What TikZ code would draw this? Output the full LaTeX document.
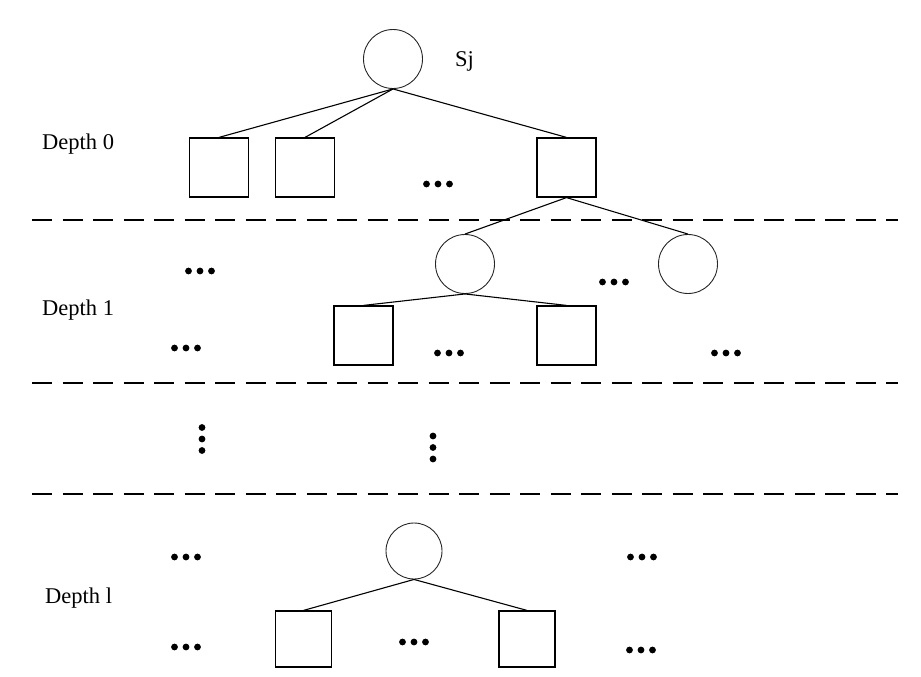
\documentclass[tikz,border=0pt]{standalone}
\usepackage{fontspec}
\setmainfont{Liberation Serif}
\begin{document}
\begin{tikzpicture}[x=1pt,y=-1pt,
  circ/.style={draw=black!85,line width=0.9pt,circle,minimum size=59pt,inner sep=0pt},
  sq/.style={draw=black,line width=1.2pt,rectangle,minimum size=59pt,inner sep=0pt},
  sqs/.style={draw=black,line width=1.2pt,rectangle,minimum size=56pt,inner sep=0pt},
  conn/.style={line width=1.1pt},
  sep/.style={line width=1.2pt,dash pattern=on 20pt off 10.5pt},
  lbl/.style={font=\fontsize{22.5}{26}\selectfont,inner sep=0pt,anchor=west},
  hd/.pic={\fill (-11.5,0) circle (3.4pt) (0,0) circle (3.4pt) (11.5,0) circle (3.4pt);},
  vd/.pic={\fill (0,-11.5) circle (3.4pt) (0,0) circle (3.4pt) (0,11.5) circle (3.4pt);}
]
\useasboundingbox (0,0) rectangle (921,677);
% separators
\coordinate (s1a) at (32,220); \coordinate (s1b) at (898,220);
\coordinate (s2a) at (32,383); \coordinate (s2b) at (898,383);
\coordinate (s3a) at (32,494); \coordinate (s3b) at (898,494);
\draw[sep] (s1a) -- (s1b);
\draw[sep] (s2a) -- (s2b);
\draw[sep] (s3a) -- (s3b);
% labels
\node[lbl] (l0) at (42,144) {Depth 0};
\node[lbl] (l1) at (42,310) {Depth 1};
\node[lbl] (l2) at (45,598) {Depth l};
\node[lbl] (sj) at (455,61) {Sj};
% depth 0
\node[circ] (root) at (393,59) {};
\node[sq] (b1) at (219,167.5) {};
\node[sq] (b2) at (305,167.5) {};
\node[sq] (b3) at (566.5,167.5) {};
\draw[conn] (root.south) -- (b1.north);
\draw[conn] (root.south) -- (b2.north);
\draw[conn] (root.south) -- (b3.north);
% depth 1
\node[circ] (c1) at (465,264) {};
\node[circ] (c2) at (688,264) {};
\draw[conn] (b3.south) -- (c1.north);
\draw[conn] (b3.south) -- (c2.north);
\node[sq] (b4) at (363.5,335.5) {};
\node[sq] (b5) at (566.5,335.5) {};
\draw[conn] (c1.south) -- (b4.north);
\draw[conn] (c1.south) -- (b5.north);
% depth l
\node[circ,minimum size=56pt] (c3) at (414,551) {};
\node[sqs] (b6) at (303.5,639) {};
\node[sqs] (b7) at (527,639) {};
\draw[conn] (c3.south) -- (b6.north);
\draw[conn] (c3.south) -- (b7.north);
% dots
\pic at (438,184) {hd};
\pic at (200,271) {hd};
\pic at (614,282) {hd};
\pic at (186,348) {hd};
\pic at (449,353) {hd};
\pic at (726,353) {hd};
\pic at (202,439) {vd};
\pic at (433,447.5) {vd};
\pic at (186,557) {hd};
\pic at (642,557) {hd};
\pic at (186,647) {hd};
\pic at (414,642) {hd};
\pic at (641,650) {hd};
\end{tikzpicture}
\end{document}
